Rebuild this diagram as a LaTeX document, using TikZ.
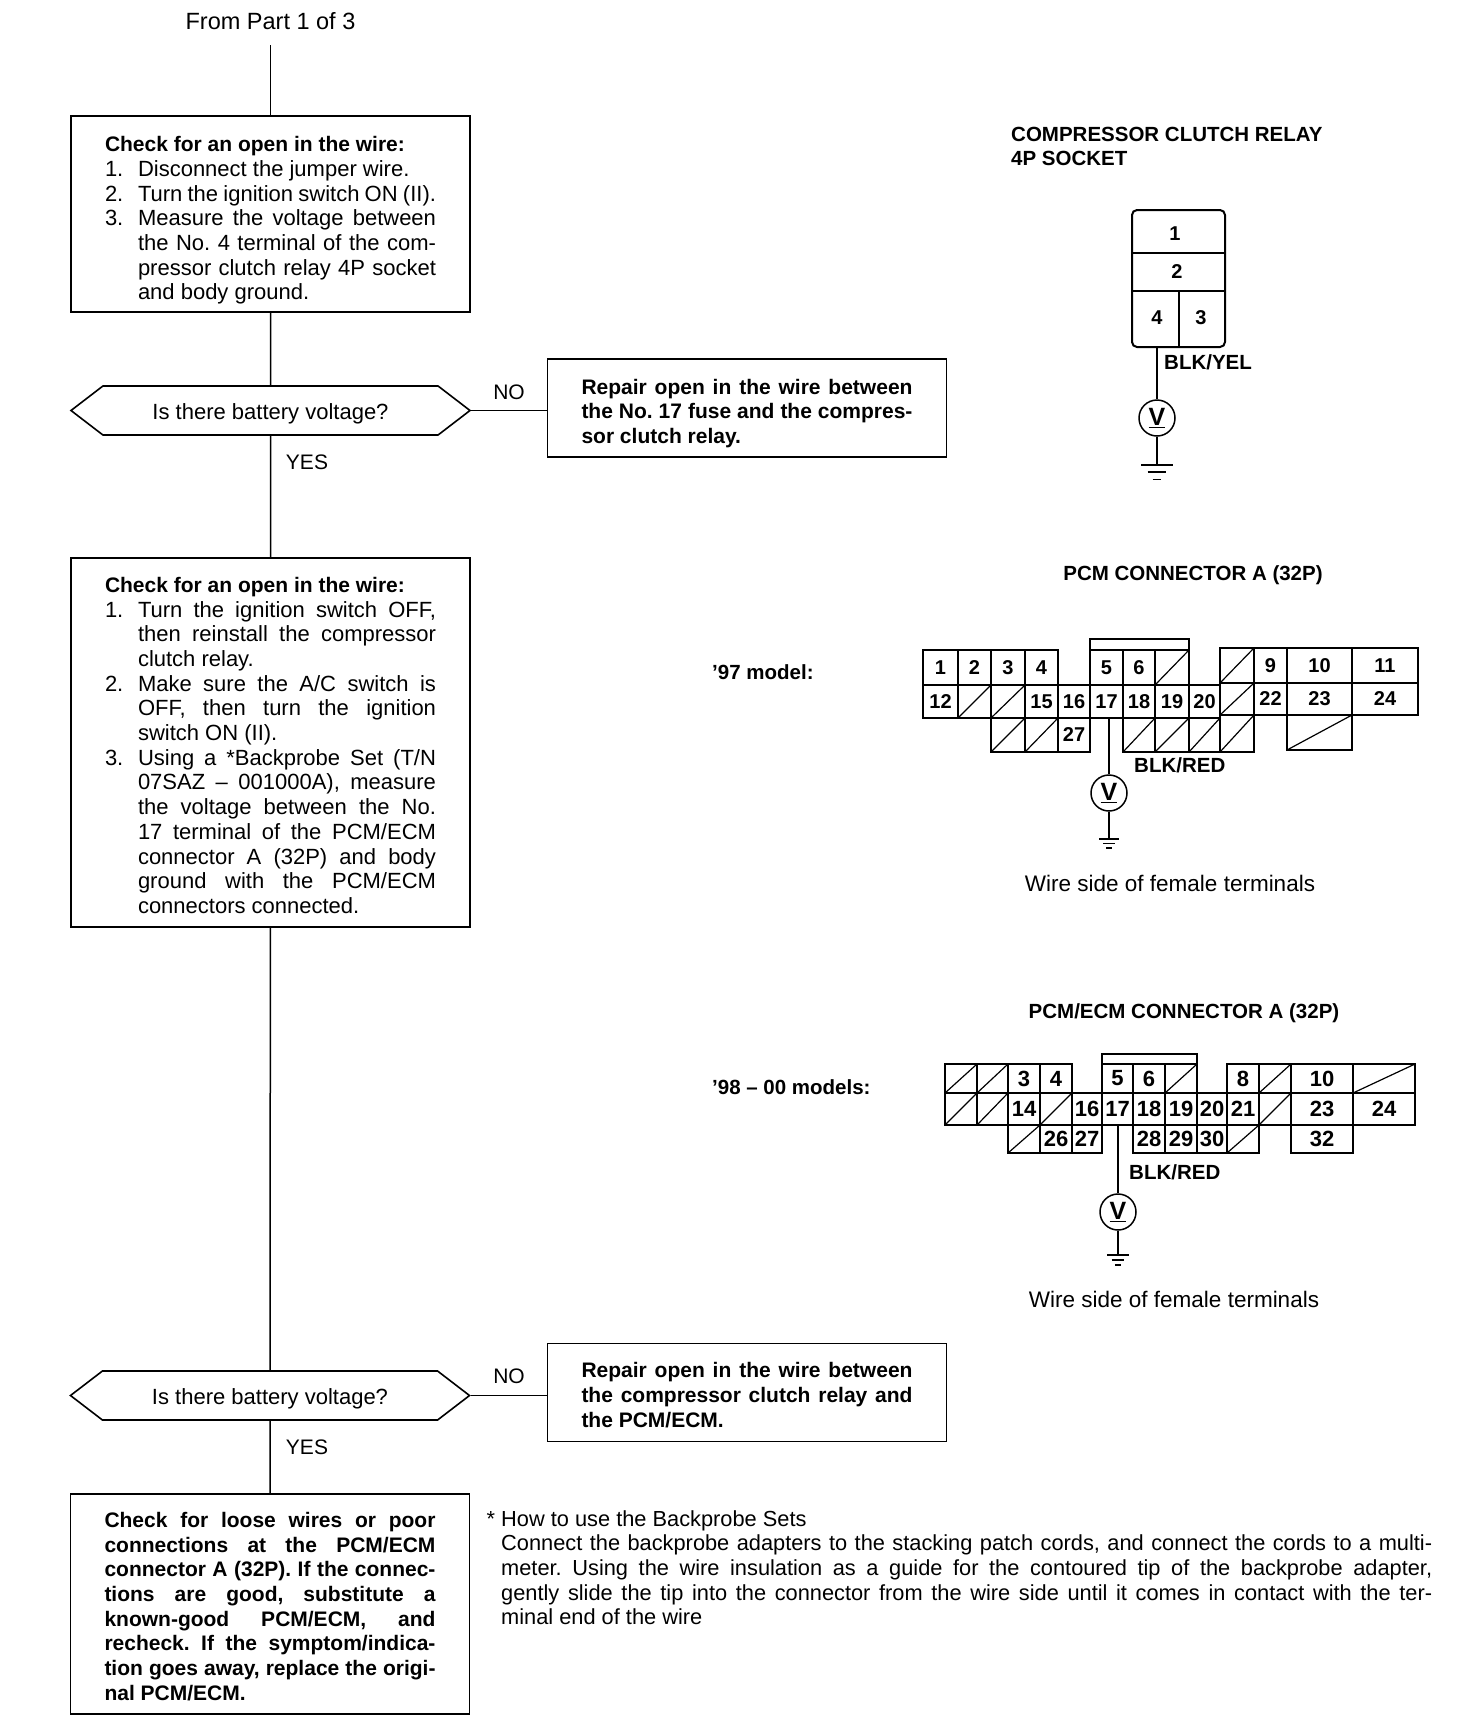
\documentclass[tikz,border=0pt]{standalone}
\usepackage{fontspec}
\setmainfont{Liberation Sans}
\usepackage{tikz}
\usetikzlibrary{arrows.meta,positioning,shapes.symbols}
\tikzset{
  wire/.style={line width=1.5pt},
  txt/.style={font=\fontsize{21}{24.7}\selectfont\frenchspacing, inner sep=0pt},
  wtxt/.style={font=\fontsize{22.5}{24.7}\selectfont, inner sep=0pt},
  btxt/.style={font=\fontsize{20.5}{24.7}\selectfont\bfseries, inner sep=0pt},
  drop/.style={execute at begin node={\rule{0pt}{#1}}},
  flowbox/.style={draw, line width=1.6pt, font=\fontsize{22}{24.7}\selectfont\frenchspacing, text width=331pt, inner xsep=34pt, inner ysep=0pt, align=justify},
  fixbox/.style={flowbox, font=\fontsize{21}{24.7}\selectfont\bfseries\frenchspacing},
  query/.style={draw, line width=1.6pt, signal, signal to=east and west, signal pointer angle=75, minimum width=399pt, minimum height=49pt, inner sep=0pt, font=\fontsize{22}{24}\selectfont, drop=23pt},
  meter/.style={draw, circle, line width=1.5pt, minimum size=36pt, inner sep=0pt, font=\fontsize{25}{26}\selectfont\bfseries},
  pin/.style={inner sep=0pt, font=\fontsize{20}{22}\selectfont\bfseries},
  cellline/.style={line width=1.2pt},
  shell/.style={line width=2.4pt, line join=miter},
}
\newcommand{\heading}[1]{{\fontsize{21}{24.7}\selectfont\bfseries #1}}
\newcommand{\numitem}[2]{\par\noindent\hangindent=33pt\hangafter=1\makebox[33pt][l]{#1}#2\par}
% one row of a connector: ya, yb, then x0/x1/label (x = blocked cavity)
\def\nolbl{x}
\newcommand{\cellrow}[5][20]{%
  \foreach \xa/\xb/\lbl in {#5} {%
    \draw[cellline] (\xa,#3) rectangle (\xb,#4);
    \ifx\lbl\nolbl
      \draw[cellline] (\xa,#4) -- (\xb,#3);
    \else
      \node[pin, font=\fontsize{#1}{22}\selectfont\bfseries] (#2\lbl) at ({(\xa+\xb)/2},{(#3+#4)/2}) {\lbl};
    \fi
  }%
}
\newcommand{\gnd}[2]{%
  \draw[wire] ([xshift=-#2pt]#1) -- ([xshift=#2pt]#1);
  \draw[wire] ([xshift=-0.58*#2pt,yshift=-0.45*#2pt]#1) -- ([xshift=0.58*#2pt,yshift=-0.45*#2pt]#1);
  \draw[wire] ([xshift=-0.28*#2pt,yshift=-0.9*#2pt]#1) -- ([xshift=0.28*#2pt,yshift=-0.9*#2pt]#1);
}
\begin{document}
\begin{tikzpicture}[x=1pt,y=-1pt]
\useasboundingbox (0,0) rectangle (1472,1730);
\fill[white] (0,0) rectangle (1472,1730);
% flow chart
\node[wtxt, font=\fontsize{23.5}{24.7}\selectfont, minimum height=48pt] (from) at (270.5,21) {From Part 1 of 3};
\node[flowbox, drop=28pt, minimum height=196pt] (chk1) at (270.5,214) {\heading{Check for an open in the wire:}
  \numitem{1.}{Disconnect the jumper wire.}
  \numitem{2.}{Turn the ignition switch ON (II).}
  \numitem{3.}{Measure the voltage between\linebreak the No. 4 terminal of the com-\linebreak pressor clutch relay 4P socket\linebreak and body ground.}};
\node[query] (q1) at (270.5,410.5) {Is there battery voltage?};
\node[fixbox, drop=26pt, minimum height=98pt] (fix1) at (747,408) {Repair open in the wire between\linebreak the No. 17 fuse and the compres-\linebreak sor clutch relay.};
\node[flowbox, drop=21pt, minimum height=369pt] (chk2) at (270.5,742.5) {\heading{Check for an open in the wire:}
  \numitem{1.}{Turn the ignition switch OFF,\linebreak then reinstall the compressor\linebreak clutch relay.}
  \numitem{2.}{Make sure the A/C switch is\linebreak OFF, then turn the ignition\linebreak switch ON (II).}
  \numitem{3.}{Using a *Backprobe Set (T/N\linebreak 07SAZ -- 001000A), measure\linebreak the voltage between the No.\linebreak 17 terminal of the PCM/ECM\linebreak connector A (32P) and body\linebreak ground with the PCM/ECM\linebreak connectors connected.}};
\node[query] (q2) at (270,1395.5) {Is there battery voltage?};
\node[fixbox, drop=20pt, minimum height=98pt] (fix2) at (747,1392.5) {Repair open in the wire between\linebreak the compressor clutch relay and\linebreak the PCM/ECM.};
\node[fixbox, drop=20pt, minimum height=220pt] (last) at (270,1604) {Check for loose wires or poor\linebreak connections at the PCM/ECM\linebreak connector A (32P). If the connec-\linebreak tions are good, substitute a\linebreak known-good PCM/ECM, and\linebreak recheck. If the symptom/indica-\linebreak tion goes away, replace the origi-\linebreak nal PCM/ECM.};
\node[txt] (no1) at (509,392) {NO};
\node[txt] (yes1) at (307,462) {YES};
\node[txt] (no2) at (509,1376) {NO};
\node[txt] (yes2) at (307,1447) {YES};
\draw[wire] (from) -- (chk1);
\draw[wire] (chk1) -- (q1);
\draw[wire] (q1) -- (chk2);
\draw[wire] (chk2) -- (q2);
\draw[wire] (q2) -- (last);
\draw[wire] (q1.east) -- (q1.east -| fix1.west);
\draw[wire] (q2.east) -- (q2.east -| fix2.west);
% relay socket
\node[btxt, anchor=west, align=left] (relayt) at (1011,146.5) {COMPRESSOR CLUTCH RELAY\\4P SOCKET};
\draw[shell, line width=2pt, rounded corners=5pt] (1132,210) rectangle (1225,347);
\draw[shell, line width=2pt] (1132,253) -- (1225,253);
\draw[shell, line width=2pt] (1132,291) -- (1225,291);
\draw[shell, line width=2pt] (1179,291) -- (1179,347);
\node[pin] (r1) at (1175,234) {1};
\node[pin] (r2) at (1177,272) {2};
\node[pin] (r4) at (1157,318) {4};
\node[pin] (r3) at (1201,318) {3};
\node[btxt, anchor=west] (blkyel) at (1164,362) {BLK/YEL};
\node[meter] (m1) at (1157,418) {\underline{V}};
\coordinate (w1) at (1157,347);
\coordinate (g1) at (1157,465);
\draw[wire] (w1) -- (m1);
\draw[wire] (m1) -- (g1);
\gnd{g1}{16}
% '97 connector
\node[btxt] (titlea) at (1193,575) {PCM CONNECTOR A (32P)};
\node[btxt, anchor=west] (mod97) at (712,672) {’97 model:};
\cellrow{a}{650}{685}{923/958/1,958/991/2,991/1025/3,1025/1058/4,1090/1123/5,1123/1155/6,1155/1189/x}
\cellrow{a}{685}{718}{923/958/12,958/991/x,991/1025/x,1025/1058/15,1058/1090/16,1090/1123/17,1123/1155/18,1155/1189/19,1189/1220/20}
\cellrow{a}{718}{752}{991/1025/x,1025/1058/x,1058/1090/27,1123/1155/x,1155/1189/x,1189/1220/x}
\cellrow{a}{648}{683}{1220/1254/x,1254/1287/9,1287/1352/10,1352/1418/11}
\cellrow{a}{683}{715}{1220/1254/x,1254/1287/22,1287/1352/23,1352/1418/24}
\cellrow{a}{715}{752}{1220/1254/x}
\cellrow{a}{715}{750}{1287/1352/x}
\draw[shell] (923,650) -- (1058,650) -- (1058,685) -- (1090,685) -- (1090,639) -- (1189,639) -- (1189,685) -- (1220,685) -- (1220,648) -- (1418,648) -- (1418,715) -- (1352,715) -- (1352,750) -- (1287,750) -- (1287,715) -- (1254,715) -- (1254,752) -- (1123,752) -- (1123,718) -- (1090,718) -- (1090,752) -- (991,752) -- (991,718) -- (923,718) -- cycle;
\draw[cellline] (1090,650) -- (1189,650);
\node[btxt, anchor=west] (blkreda) at (1134,765) {BLK/RED};
\node[meter] (m2) at (1109,793) {\underline{V}};
\coordinate (w2) at (1109,718);
\coordinate (g2) at (1109,839);
\draw[wire] (w2) -- (m2);
\draw[wire] (m2) -- (g2);
\gnd{g2}{10}
\node[wtxt] (sidea) at (1170,883) {Wire side of female terminals};
% '98-00 connector
\node[btxt] (titleb) at (1184,1013) {PCM/ECM CONNECTOR A (32P)};
\node[btxt, anchor=west] (mod98) at (712,1087) {’98 -- 00 models:};
\cellrow[22]{b}{1064}{1093}{945/977/x,977/1008/x,1008/1040/3,1040/1072/4,1102/1133/5,1133/1165/6,1165/1197/x,1227/1259/8,1259/1291/x,1291/1353/10,1353/1415/x}
\cellrow[22]{b}{1093}{1125}{945/977/x,977/1008/x,1008/1040/14,1040/1072/x,1072/1102/16,1102/1133/17,1133/1165/18,1165/1197/19,1197/1227/20,1227/1259/21,1259/1291/x,1291/1353/23,1353/1415/24}
\cellrow[22]{b}{1125}{1153}{1008/1040/x,1040/1072/26,1072/1102/27,1133/1165/28,1165/1197/29,1197/1227/30,1227/1259/x,1291/1353/32}
\draw[shell] (945,1064) -- (1072,1064) -- (1072,1093) -- (1102,1093) -- (1102,1054) -- (1197,1054) -- (1197,1093) -- (1227,1093) -- (1227,1064) -- (1415,1064) -- (1415,1125) -- (1353,1125) -- (1353,1153) -- (1291,1153) -- (1291,1125) -- (1259,1125) -- (1259,1153) -- (1133,1153) -- (1133,1125) -- (1102,1125) -- (1102,1153) -- (1008,1153) -- (1008,1125) -- (945,1125) -- cycle;
\draw[cellline] (1102,1064) -- (1197,1064);
\node[btxt, anchor=west] (blkredb) at (1129,1172) {BLK/RED};
\node[meter] (m3) at (1118,1212) {\underline{V}};
\coordinate (w3) at (1118,1125);
\coordinate (g3) at (1118,1255);
\draw[wire] (w3) -- (m3);
\draw[wire] (m3) -- (g3);
\gnd{g3}{11}
\node[wtxt] (sideb) at (1174,1299) {Wire side of female terminals};
% foot note
\node[txt, font=\fontsize{21.8}{24.7}\selectfont\frenchspacing, anchor=north west, text width=931pt, align=justify] (note) at (501,1510) {\llap{* }How to use the Backprobe Sets\par
Connect the backprobe adapters to the stacking patch cords, and connect the cords to a multi-\linebreak meter. Using the wire insulation as a guide for the contoured tip of the backprobe adapter,\linebreak gently slide the tip into the connector from the wire side until it comes in contact with the ter-\linebreak minal end of the wire};
\end{tikzpicture}
\end{document}
